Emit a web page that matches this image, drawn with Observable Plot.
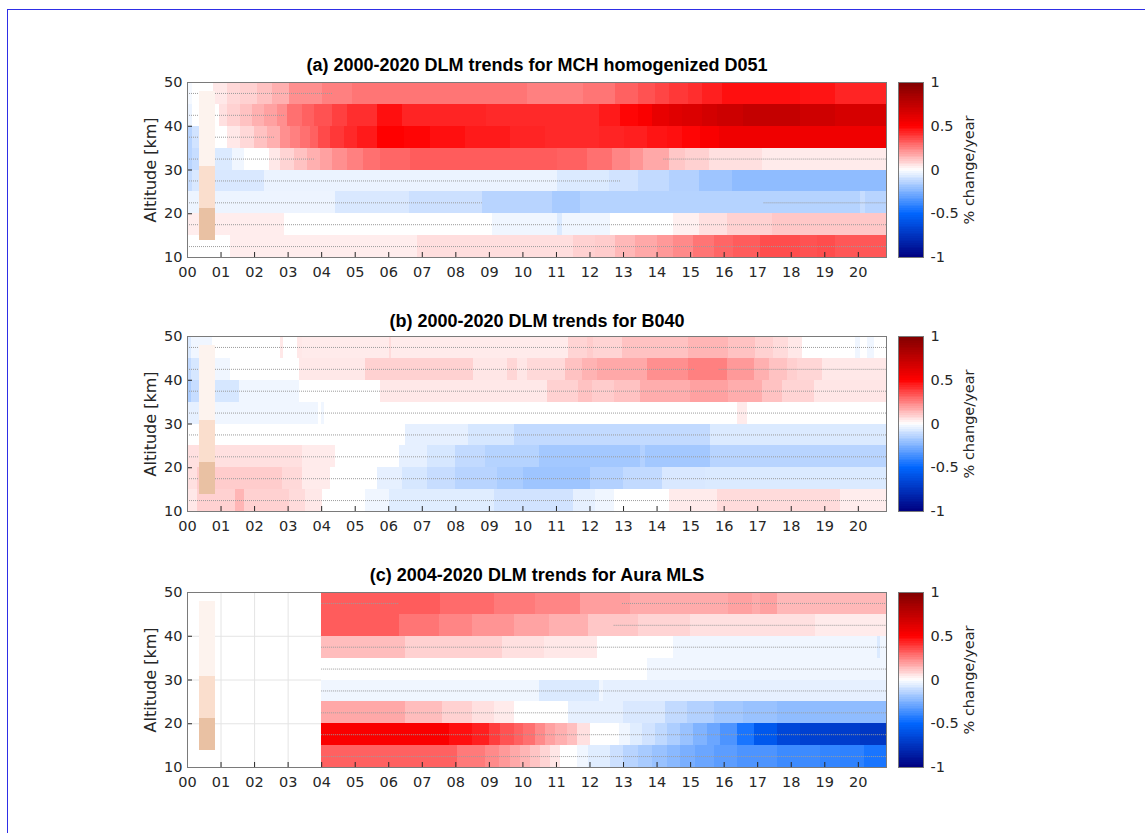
<!DOCTYPE html>
<html><head><meta charset="utf-8">
<script src="https://cdn.jsdelivr.net/npm/d3@7"></script>
<script src="https://cdn.jsdelivr.net/npm/@observablehq/plot@0.6"></script>
<style>
body{margin:0;width:1145px;height:833px;background:#fff;position:relative;overflow:hidden;font-family:"DejaVu Sans",sans-serif;}
.border{position:absolute;left:7px;top:9px;width:1150px;height:840px;border-left:1px solid #2e2ee6;border-top:1px solid #2e2ee6;}
.abs{position:absolute;}
</style></head><body>
<div class="border"></div>
<div id="root"></div>
<script>
// ---------- shared axes data ----------
const ALT_EDGES = [10, 15, 20, 25, 30, 35, 40, 45, 50];
const Y_TICKS = [10, 20, 30, 40, 50];
const YEARS = d3.range(0, 21);          // tick labels 00..20
const X_END = 20.84;                    // last data time (years since 2000)
const CBAR_TICKS = [-1, -0.5, 0, 0.5, 1];
const CBAR_LABEL = "% change/year";
const Y_LABEL = "Altitude [km]";

// altitude regions marker (tan bars) : edges [km] and time span
const TAN_EDGES = [14, 21.3, 30.8, 48];
const TAN_SPAN = [0.37, 0.83];
const TAN_COLORS = ["#e9c1a3", "#fadecd", "#fdf3ee"];

// ---------- Panel (a): MCH homogenized D051 ; runs of [start year, trend %/yr] per 5 km band ----------
const a10 = [[0,0.0],[1.29,0.035],[6.86,0.065],[11.52,0.09],[12.17,0.1],[12.77,0.14],[13.36,0.17],[14.01,0.2],[14.5,0.23],[15.1,0.27],[15.7,0.3],[16.29,0.32],[17.09,0.35],[18.28,0.34],[18.78,0.35],[19.32,0.33]];
const a15 = [[0,0.035],[2.88,0.0],[9.09,-0.03],[11.03,-0.07],[11.18,-0.03],[12.62,0.0],[14.5,0.03],[15.25,0.06],[16.1,0.09],[17.44,0.11]];
const a20 = [[0,-0.035],[4.42,-0.075],[6.61,-0.1],[8.79,-0.14],[10.88,-0.17],[11.72,-0.145],[20.07,-0.11],[20.22,-0.14]];
const a25 = [[0,-0.11],[0.15,-0.075],[2.29,-0.04],[11.03,-0.07],[12.57,-0.09],[13.46,-0.12],[14.36,-0.15],[15.25,-0.19],[16.24,-0.22]];
const a30 = [[0,-0.14],[0.15,-0.11],[0.84,-0.07],[1.34,-0.03],[1.69,0.0],[2.43,0.045],[2.78,0.085],[3.18,0.12],[3.57,0.155],[3.97,0.185],[4.32,0.22],[4.77,0.25],[5.26,0.28],[5.76,0.3],[6.66,0.32],[11.03,0.31],[11.92,0.28],[12.67,0.24],[13.22,0.21],[13.61,0.17],[14.36,0.11],[14.85,0.09],[15.55,0.06],[17.14,0.04]];
const a35 = [[0,-0.14],[0.15,-0.09],[0.84,0.0],[1.19,0.045],[1.59,0.076],[1.99,0.12],[2.39,0.155],[2.78,0.22],[3.08,0.25],[3.37,0.28],[3.67,0.31],[3.92,0.355],[4.27,0.39],[4.67,0.42],[5.06,0.45],[5.66,0.5],[6.46,0.49],[7.25,0.47],[8.3,0.45],[9.64,0.43],[10.68,0.42],[12.27,0.43],[13.02,0.44],[13.71,0.46],[14.31,0.47],[14.75,0.49],[15.3,0.52],[15.85,0.56]];
const a40 = [[0,-0.04],[0.15,0.0],[0.94,0.06],[1.19,0.09],[1.59,0.12],[1.94,0.155],[2.29,0.185],[2.68,0.22],[2.98,0.28],[3.43,0.31],[3.78,0.34],[4.32,0.375],[4.77,0.41],[5.66,0.47],[6.41,0.43],[8.9,0.42],[12.27,0.45],[12.92,0.49],[13.46,0.52],[13.86,0.59],[14.36,0.62],[14.75,0.64],[15.35,0.67],[15.8,0.7],[16.59,0.73],[18.28,0.69],[19.32,0.66]];
const a45 = [[0,-0.02],[0.15,0.0],[0.79,0.045],[1.19,0.076],[1.59,0.09],[2.09,0.12],[2.53,0.155],[3.03,0.22],[4.02,0.25],[4.92,0.27],[10.13,0.25],[11.8,0.27],[12.77,0.31],[13.46,0.34],[13.96,0.365],[14.36,0.39],[14.95,0.41],[15.35,0.44],[15.95,0.47],[18.28,0.46],[19.32,0.43]];
// dotted (non-significant) segments: [altitude, from, to]
const dotsA = [[47.5,0,4.35],[42.5,0,2.93],[37.5,0,2.6],[32.5,0,3.82],[32.5,14.2,20.84],[27.5,0,12.92],[22.5,0,8.79],[22.5,17.19,20.84],[17.5,0,20.84],[12.5,0,20.84]];

// ---------- Panel (b): B040 ----------
const b10 = [[0,0.045],[0.3,0.09],[1.44,0.145],[1.69,0.09],[3.03,0.07],[3.53,0.045],[4.02,0.0],[5.31,-0.03],[6.01,-0.06],[9.14,-0.09],[11.52,-0.05],[12.17,-0.03],[12.72,0.0],[14.36,0.04],[15.8,0.07],[19.47,0.035]];
const b15 = [[0,0.06],[0.3,0.1],[2.83,0.075],[3.43,0.04],[4.27,0.0],[5.66,-0.05],[6.41,-0.08],[7.15,-0.11],[8.0,-0.14],[9.24,-0.165],[10.03,-0.19],[12.02,-0.15],[13.01,-0.12],[14.16,-0.075],[15.45,-0.07]];
const b20 = [[0,0.06],[3.43,0.04],[4.42,0.0],[6.31,-0.05],[7.15,-0.08],[8.0,-0.12],[8.89,-0.145],[10.48,-0.18],[13.51,-0.15],[13.66,-0.18],[15.6,-0.14]];
const b25 = [[0,0.0],[6.51,-0.05],[8.39,-0.08],[9.74,-0.12],[15.6,-0.07]];
const b30 = [[0,-0.05],[0.84,-0.03],[3.92,0.0],[4.0,-0.03],[4.07,0.0],[16.39,0.04],[16.69,0.0]];
const b35 = [[0,-0.16],[0.12,-0.11],[0.84,-0.08],[1.54,-0.03],[3.33,0.0],[5.76,0.045],[10.73,0.09],[11.67,0.12],[12.07,0.1],[12.72,0.12],[13.51,0.16],[15.0,0.185],[16.14,0.16],[17.14,0.12],[17.73,0.085],[18.68,0.05]];
const b40 = [[0,-0.12],[0.12,-0.08],[0.84,-0.03],[1.29,0.0],[3.33,0.045],[5.31,0.09],[8.54,0.05],[9.54,0.08],[9.84,0.05],[10.13,0.075],[11.28,0.12],[11.77,0.15],[12.22,0.17],[13.71,0.22],[14.95,0.25],[16.1,0.2],[16.89,0.155],[17.34,0.12],[17.88,0.095],[18.18,0.08],[18.93,0.045]];
const b45 = [[0,-0.07],[0.12,-0.03],[0.74,0.0],[2.78,0.045],[2.86,0.0],[3.28,0.045],[3.43,0.04],[6.01,0.07],[6.07,0.04],[11.37,0.085],[11.92,0.1],[12.1,0.085],[12.97,0.12],[14.95,0.145],[16.14,0.12],[16.94,0.09],[17.48,0.07],[17.93,0.045],[18.33,0.0],[19.92,-0.03],[20.07,0.0],[20.27,-0.03],[20.47,0.0]];
const dotsB = [[47.5,0,20.84],[42.5,0,15.15],[42.5,15.85,20.84],[37.5,0,20.84],[32.5,0,20.84],[27.5,0,20.84],[22.5,0,20.84],[17.5,0,20.84],[12.5,0,20.84]];

// ---------- Panel (c): Aura MLS (from 2004) ----------
const c10 = [[4.0,0.31],[8.05,0.26],[8.89,0.23],[9.29,0.2],[9.64,0.17],[9.93,0.145],[10.23,0.115],[10.53,0.085],[10.83,0.05],[11.13,0.0],[11.62,-0.03],[11.97,-0.06],[12.62,-0.1],[13.01,-0.14],[13.46,-0.17],[13.86,-0.2],[14.31,-0.23],[14.7,-0.26],[15.15,-0.29],[15.7,-0.32],[16.39,-0.35],[17.59,-0.38],[18.88,-0.4],[19.47,-0.41],[20.17,-0.45]];
const c15 = [[4.0,0.52],[7.8,0.47],[8.49,0.44],[8.99,0.38],[9.34,0.34],[9.74,0.31],[10.03,0.28],[10.38,0.23],[10.68,0.185],[10.98,0.155],[11.33,0.125],[11.62,0.06],[12.02,0.0],[12.87,-0.03],[13.21,-0.06],[13.56,-0.09],[13.96,-0.125],[14.31,-0.16],[14.7,-0.2],[15.1,-0.25],[15.5,-0.29],[15.9,-0.35],[16.39,-0.45],[16.89,-0.57],[17.59,-0.65],[18.28,-0.68],[19.17,-0.7],[20.07,-0.73]];
const c20 = [[4.0,0.17],[6.51,0.13],[7.6,0.09],[8.49,0.06],[9.14,0.04],[9.74,0.0],[11.37,-0.05],[13.01,-0.075],[14.26,-0.12],[14.9,-0.15],[15.7,-0.18],[16.59,-0.2],[17.59,-0.22]];
const c25 = [[4.0,-0.03],[10.48,-0.07],[12.27,-0.03],[12.4,-0.05]];
const c30 = [[4.0,0.0],[13.71,-0.03]];
const c35 = [[4.0,0.13],[6.51,0.09],[9.39,0.06],[10.63,0.045],[12.22,0.0],[14.5,-0.03],[20.57,-0.07],[20.67,-0.03]];
const c40 = [[4.0,0.32],[6.31,0.27],[7.5,0.24],[8.49,0.21],[9.74,0.18],[10.78,0.155],[11.97,0.11],[13.46,0.085],[15.0,0.06],[18.73,0.04]];
const c45 = [[4.0,0.32],[7.55,0.29],[9.14,0.26],[10.38,0.24],[11.72,0.19],[13.22,0.165],[16.14,0.185],[16.84,0.165],[17.09,0.185],[17.59,0.14]];
const dotsC = [[47.5,4.0,6.31],[47.5,12.97,20.84],[42.5,12.72,20.84],[37.5,4,20.84],[32.5,4,20.84],[27.5,4,20.84],[22.5,4,20.84],[17.5,4,20.84],[12.5,4,20.84]];

const TITLES = [
  "(a) 2000-2020 DLM trends for MCH homogenized D051",
  "(b) 2000-2020 DLM trends for B040",
  "(c) 2004-2020 DLM trends for Aura MLS"
];

// ---------- styling ----------
const COLOR = {type: "linear", domain: [-1, -0.5, 0, 0.5, 1],
  range: ["#00007f", "#0066ff", "#ffffff", "#ff0000", "#7f0000"], clamp: true};
const M_TOP = 40, M_BOTTOM = 30, M_LEFT = 187, M_RIGHT = 259, W = 1145;
const AXIS_COLOR = "#262626";

function cells(bands, end) {
  const out = [];
  bands.forEach((runs, i) => {
    runs.forEach((r, j) => out.push({
      x1: r[0], x2: j + 1 < runs.length ? runs[j + 1][0] : end,
      y1: ALT_EDGES[i], y2: ALT_EDGES[i + 1], v: r[1]}));
  });
  return out;
}
const tanRows = TAN_COLORS.map((c, i) => ({y1: TAN_EDGES[i], y2: TAN_EDGES[i + 1], x1: TAN_SPAN[0], x2: TAN_SPAN[1], c}));

function panel(title, bands, dots, titleDy, top, frameH) {
  const data = cells(bands, X_END);
  const svg = Plot.plot({
    width: W, height: frameH + M_TOP + M_BOTTOM,
    marginLeft: M_LEFT, marginRight: M_RIGHT, marginTop: M_TOP, marginBottom: M_BOTTOM,
    x: {domain: [0, X_END], ticks: YEARS, tickFormat: d => String(d).padStart(2, "0"), tickSize: 0, tickPadding: 9, label: null},
    y: {domain: [10, 50], ticks: Y_TICKS, tickSize: 0, tickPadding: 5, label: null},
    color: COLOR,
    style: {fontSize: "14.5px", fontFamily: "'DejaVu Sans', sans-serif", color: AXIS_COLOR, background: "transparent", overflow: "visible"},
    marks: [
      Plot.ruleX(YEARS.slice(1), {stroke: "#e4e4e4"}),
      Plot.ruleY(Y_TICKS.slice(1, -1), {stroke: "#e4e4e4"}),
      Plot.rect(data, {x1: "x1", x2: "x2", y1: "y1", y2: "y2", fill: "v", shapeRendering: "crispEdges"}),
      Plot.ruleY(dots, {y: d => d[0], x1: d => d[1], x2: d => d[2], stroke: "#9c9c9c", strokeDasharray: "1,1", strokeWidth: 1}),
      Plot.rect(tanRows, {x1: "x1", x2: "x2", y1: "y1", y2: "y2", fill: d => d.c, shapeRendering: "crispEdges"}),
      Plot.tickX(YEARS.slice(1), {x: d => d, insetTop: frameH - 5, stroke: AXIS_COLOR}),
      Plot.tickY(Y_TICKS.slice(1, -1), {y: d => d, insetRight: W - M_LEFT - M_RIGHT - 5, stroke: AXIS_COLOR}),
      Plot.frame({stroke: "#7a7a7a"}),
      Plot.text([title], {frameAnchor: "top", lineAnchor: "middle", dy: titleDy, fontWeight: "bold", fontSize: 18,
        fontFamily: "'Liberation Sans', Arial, sans-serif", fill: "#000"}),
      Plot.text([Y_LABEL], {frameAnchor: "left", textAnchor: "middle", lineAnchor: "middle", dx: -37, rotate: -90, fontSize: 16, fill: AXIS_COLOR})
    ]
  });
  svg.classList.add("abs");
  svg.style.left = "0px";
  svg.style.top = top + "px";
  document.getElementById("root").appendChild(svg);

  const steps = d3.range(-1, 1, 0.02);
  const cb = Plot.plot({
    width: 120, height: frameH + M_TOP + M_BOTTOM,
    marginLeft: 0, marginRight: 95, marginTop: M_TOP, marginBottom: M_BOTTOM,
    x: {domain: [0, 1], axis: null},
    y: {domain: [-1, 1], ticks: CBAR_TICKS, tickFormat: d => String(d), tickSize: 0, tickPadding: 7, axis: "right", label: null},
    color: COLOR,
    style: {fontSize: "14.5px", fontFamily: "'DejaVu Sans', sans-serif", color: AXIS_COLOR, background: "transparent", overflow: "visible"},
    marks: [
      Plot.rect(steps, {y1: d => d, y2: d => d + 0.02, fill: d => d + 0.01, shapeRendering: "crispEdges"}),
      Plot.frame({stroke: "#7a7a7a"}),
      Plot.text([CBAR_LABEL], {frameAnchor: "right", textAnchor: "middle", lineAnchor: "middle", dx: 46, rotate: -90, fontSize: 14.5, fill: AXIS_COLOR})
    ]
  });
  cb.classList.add("abs");
  cb.style.left = "898px";
  cb.style.top = top + "px";
  document.getElementById("root").appendChild(cb);
}

panel(TITLES[0], [a10, a15, a20, a25, a30, a35, a40, a45], dotsA, -17, 82 - M_TOP, 175);
panel(TITLES[1], [b10, b15, b20, b25, b30, b35, b40, b45], dotsB, -15, 336 - M_TOP, 175);
panel(TITLES[2], [c10, c15, c20, c25, c30, c35, c40, c45], dotsC, -17, 592 - M_TOP, 175);
</script>
</body></html>
